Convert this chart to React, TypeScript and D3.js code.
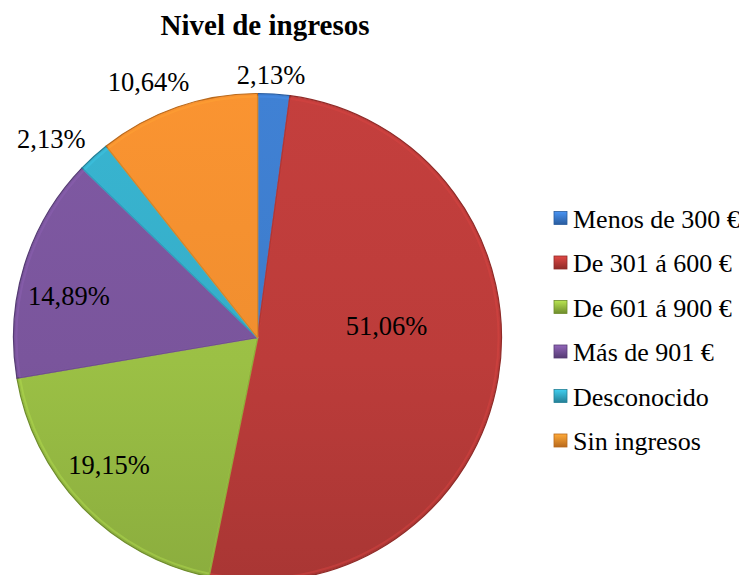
import React from "react";
import * as d3 from "d3";

const categories = ["Menos de 300 €", "De 301 á 600 €", "De 601 á 900 €", "Más de 901 €", "Desconocido", "Sin ingresos"];
const values = [2.13, 51.06, 19.15, 14.89, 2.13, 10.64];
const valueLabels = ["2,13%", "51,06%", "19,15%", "14,89%", "2,13%", "10,64%"];
const colors = ["#3D7CCB", "#BC3C3A", "#9BC045", "#7A559C", "#36ADC8", "#F08E2F"];
const darkColors = ["#2A5C9E", "#8F2B28", "#6E8C2C", "#553B73", "#247F96", "#B8691C"];

// label placement (layout): angle shift from slice mid (deg) and radius fraction
const labelAngleShift = [-0.9, -14.5, 3.5, -4.9, -3.9, -3.9];
const labelRadiusFrac = [1.079, 0.531, 0.801, 0.791, 1.174, 1.14];

const W = 747, H = 583;
const cx = 257.5, cy = 337.5, R = 244;
const FONT = "Liberation Serif";

export default function App() {
  const pie = d3.pie<number>().sort(null).value((d) => d)(values);
  const arc = d3.arc<d3.PieArcDatum<number>>().innerRadius(0).outerRadius(R);
  const innerArc = d3.arc<d3.PieArcDatum<number>>().innerRadius(0).outerRadius(R - 3);
  const legendY = d3.scaleLinear().domain([0, categories.length - 1]).range([227.5, 450]);
  return (
    <div style={{ margin: -8 }}>
      <svg width={W} height={H} style={{ display: "block" }} fontFamily={FONT}>
        <defs>
          {colors.map((c, i) => (
            <linearGradient key={i} id={`g${i}`} gradientUnits="userSpaceOnUse" x1={0} y1={-R} x2={0} y2={R}>
              <stop offset="0" stopColor={d3.color(c)!.brighter(0.12).toString()} />
              <stop offset="0.55" stopColor={c} />
              <stop offset="1" stopColor={d3.color(c)!.darker(0.3).toString()} />
            </linearGradient>
          ))}
          {colors.map((c, i) => (
            <linearGradient key={"l" + i} id={`lg${i}`} x1="0" y1="0" x2="0" y2="1">
              <stop offset="0" stopColor={d3.color(c)!.brighter(0.5).toString()} />
              <stop offset="1" stopColor={darkColors[i]} />
            </linearGradient>
          ))}
        </defs>
        <text x={265} y={35} textAnchor="middle" fontWeight="bold" fontSize={29} fontFamily={FONT}>Nivel de ingresos</text>
        <g transform={`translate(${cx},${cy})`}>
          {pie.map((p, i) => (
            <g key={i}>
              <path d={arc(p) || ""} fill={`url(#g${i})`} stroke={darkColors[i]} strokeWidth={1.2} strokeLinejoin="round" />
              <path d={innerArc(p) || ""} fill="none" stroke={d3.color(colors[i])!.brighter(0.4).toString()} strokeWidth={2} strokeOpacity={0.45} strokeLinejoin="round" />
            </g>
          ))}
          {pie.map((p, i) => {
            const a = ((p.startAngle + p.endAngle) / 2) + (labelAngleShift[i] * Math.PI) / 180;
            const r = R * labelRadiusFrac[i];
            return (
              <text key={"t" + i} x={r * Math.sin(a)} y={-r * Math.cos(a)} dy={9} textAnchor="middle" fontSize={26.5} fontFamily={FONT} fill="#000">
                {valueLabels[i]}
              </text>
            );
          })}
        </g>
        <g>
          {categories.map((c, i) => (
            <g key={c} transform={`translate(0,${legendY(i)})`}>
              <rect x={554} y={-16} width={13} height={13} fill={`url(#lg${i})`} stroke={darkColors[i]} strokeWidth={0.8} />
              <text x={573} y={0} fontSize={26} fontFamily={FONT}>{c}</text>
            </g>
          ))}
        </g>
      </svg>
    </div>
  );
}
